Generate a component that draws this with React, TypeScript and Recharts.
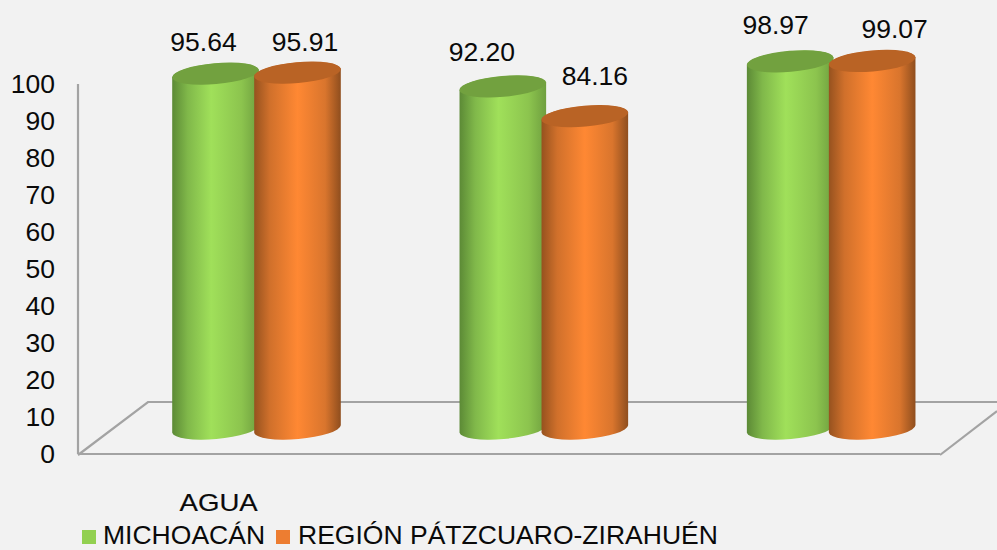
import React from 'react';
import { BarChart, Bar, XAxis, YAxis, Legend, LabelList, Customized } from 'recharts';

const categories = ['AGUA', '', ''];
const michoacan = [95.64, 92.2, 98.97];
const region = [95.91, 84.16, 99.07];
const yTicks = [0, 10, 20, 30, 40, 50, 60, 70, 80, 90, 100];

const data = categories.map((name, i) => ({ name, michoacan: michoacan[i], region: region[i] }));

// label nudges, the original labels were hand placed
const greenLabelOffset = [[-12, -31.5], [-21, -34], [-14.5, -36]];
const orangeLabelOffset = [[7.5, -30.5], [10, -40], [22.5, -32]];

const FONT = '"Liberation Sans", Arial, sans-serif';
const WIDE = 1.02; // the original picture is slightly stretched
const AXIS_GRAY = '#a3a3a3';

const SHIFT_X = 34.5;
const SHIFT_TOP = -26.5;
const SHIFT_BASE = -25;
const RX = 43.5;
const RY = 10.5;
const TILT = -5;
const CORNER_X = 43.3;
const CORNER_Y = 3.8;

const WideText = ({ x, y, anchor, children, size = 26, scale = WIDE, stroke }: any) => (
  <text
    transform={`translate(${x},${y}) scale(${scale},1)`}
    textAnchor={anchor}
    dominantBaseline="central"
    fontFamily={FONT}
    fontSize={size}
    fill="#0a0a0a"
    stroke={stroke}
    strokeWidth={stroke ? 0.15 : 0}
  >
    {children}
  </text>
);

const makeCylinder = (bodyFill: string, topFill: string) => (props: any) => {
  const { x, y, width, height } = props;
  const cx = x + width / 2 + SHIFT_X;
  const top = y + SHIFT_TOP;
  const base = y + height + SHIFT_BASE;
  const body = `M${cx - CORNER_X},${top + CORNER_Y} L${cx - CORNER_X},${base + CORNER_Y} A${RX},${RY} ${TILT} 0 0 ${cx + CORNER_X},${base - CORNER_Y} L${cx + CORNER_X},${top - CORNER_Y} A${RX},${RY} ${TILT} 0 0 ${cx - CORNER_X},${top + CORNER_Y} Z`;
  return (
    <g>
      <path d={body} fill={bodyFill} />
      <ellipse cx={cx} cy={top} rx={RX} ry={RY} fill={topFill} transform={`rotate(${TILT} ${cx} ${top})`} />
    </g>
  );
};

const GreenCylinder = makeCylinder('url(#greenBody)', '#72a13f');
const OrangeCylinder = makeCylinder('url(#orangeBody)', '#b96325');

const makeValueLabel = (offsets: number[][]) => (props: any) => {
  const { x, y, width, value, index } = props;
  const [dx, dy] = offsets[index];
  return (
    <WideText x={x + width / 2 + SHIFT_X + dx} y={y + SHIFT_TOP + dy} anchor="middle">
      {Number(value).toFixed(2)}
    </WideText>
  );
};

const YTick = ({ x, y, payload }: any) => (
  <WideText x={x} y={y} anchor="end">
    {payload.value}
  </WideText>
);

const XTick = ({ x, y, payload }: any) =>
  payload.value ? (
    <WideText x={x - 3} y={y} anchor="middle" size={24} scale={1.15} stroke="#0a0a0a">
      {payload.value}
    </WideText>
  ) : null;

// the 3D floor behind the bars
const Floor = () => (
  <g fill="none" stroke={AXIS_GRAY} strokeWidth={2.2}>
    <polyline points="78,455 148,402 997,402" />
    <line x1={940} y1={455} x2={997} y2={411} />
  </g>
);

const legendLeft = [[82, 103], [276, 298]];

const ChartLegend = ({ payload }: any) => (
  <div style={{ position: 'relative', width: 997, height: 30, fontFamily: FONT, fontSize: 26, color: '#0a0a0a' }}>
    {(payload || []).map((item: any, i: number) => (
      <React.Fragment key={item.value}>
        <span style={{ position: 'absolute', left: legendLeft[i][0], top: 10, width: 14, height: 14, background: item.color }} />
        <span
          style={{
            position: 'absolute',
            left: legendLeft[i][1],
            top: 1.5,
            lineHeight: '26px',
            whiteSpace: 'nowrap',
            transform: `scale(${WIDE},1)`,
            transformOrigin: 'left center',
          }}
        >
          {item.value}
        </span>
      </React.Fragment>
    ))}
  </div>
);

const App = () => (
  <div style={{ position: 'absolute', left: 0, top: 0, width: 997, height: 550, background: '#f2f2f2', overflow: 'hidden' }}>
    <BarChart
      width={997}
      height={550}
      data={data}
      margin={{ top: 84, right: 57, bottom: 36, left: 0 }}
      barCategoryGap="0%"
      barGap={0}
      barSize={82}
      style={{ overflow: 'visible' }}
    >
      <defs>
        <linearGradient id="greenBody" x1="0" y1="0" x2="1" y2="0">
          <stop offset="0%" stopColor="#5c8a36" />
          <stop offset="18%" stopColor="#80b84a" />
          <stop offset="45%" stopColor="#a0e05a" />
          <stop offset="80%" stopColor="#8cc44e" />
          <stop offset="100%" stopColor="#6f9f3f" />
        </linearGradient>
        <linearGradient id="orangeBody" x1="0" y1="0" x2="1" y2="0">
          <stop offset="0%" stopColor="#96521f" />
          <stop offset="18%" stopColor="#d0702b" />
          <stop offset="50%" stopColor="#ff8833" />
          <stop offset="82%" stopColor="#d9752d" />
          <stop offset="100%" stopColor="#8f4e1e" />
        </linearGradient>
      </defs>
      <Customized component={<Floor />} />
      <XAxis
        dataKey="name"
        height={60}
        interval={0}
        tick={<XTick />}
        tickLine={false}
        tickSize={0}
        tickMargin={49}
        axisLine={{ stroke: AXIS_GRAY, strokeWidth: 2.2 }}
      />
      <YAxis
        type="number"
        domain={[0, 100]}
        ticks={yTicks}
        width={78}
        tick={<YTick />}
        tickLine={false}
        tickSize={0}
        tickMargin={23}
        axisLine={{ stroke: AXIS_GRAY, strokeWidth: 2.2 }}
      />
      <Legend
        content={<ChartLegend />}
        verticalAlign="middle"
        wrapperStyle={{ left: 0, top: 520, width: 997, height: 30, margin: 0 }}
      />
      <Bar dataKey="michoacan" name="MICHOACÁN" fill="#92d050" shape={GreenCylinder} isAnimationActive={false}>
        <LabelList dataKey="michoacan" content={makeValueLabel(greenLabelOffset)} />
      </Bar>
      <Bar dataKey="region" name="REGIÓN PÁTZCUARO-ZIRAHUÉN" fill="#ed7d31" shape={OrangeCylinder} isAnimationActive={false}>
        <LabelList dataKey="region" content={makeValueLabel(orangeLabelOffset)} />
      </Bar>
    </BarChart>
  </div>
);

export default App;
